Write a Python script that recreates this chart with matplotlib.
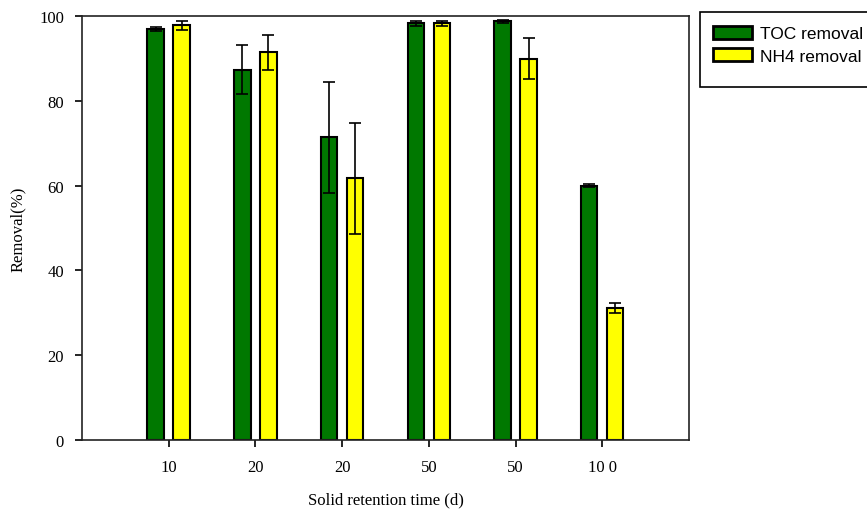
import numpy as np
import matplotlib
matplotlib.use('Agg')
import matplotlib.pyplot as plt
from matplotlib.patches import Rectangle

# data
srt_labels = ['10', '20', '20', '50', '50', '10 0']
toc_removal = [96.9, 87.3, 71.4, 98.3, 98.7, 60.0]
toc_err = [0.4, 5.8, 13.1, 0.6, 0.4, 0.3]
nh4_removal = [97.8, 91.4, 61.7, 98.3, 89.9, 31.1]
nh4_err = [1.0, 4.1, 13.1, 0.6, 4.8, 1.1]

fig = plt.figure(figsize=(8.67, 5.10), dpi=100)
ax = fig.add_axes([0.0946, 0.1353, 0.700, 0.8314])

x = np.arange(len(srt_labels))
w = 0.19
off = 0.15
err_kw = dict(ecolor='black', elinewidth=1.2, capsize=4.5, capthick=1.2)
b1 = ax.bar(x - off, toc_removal, w, yerr=toc_err, color='#007800', edgecolor='black',
            linewidth=1.5, error_kw=err_kw, label='TOC removal')
b2 = ax.bar(x + off, nh4_removal, w, yerr=nh4_err, color='#ffff00', edgecolor='black',
            linewidth=1.5, error_kw=err_kw, label='NH4 removal')

ax.set_xlim(-1, 6)
ax.set_ylim(0, 100)
ax.set_xticks(x)
ax.set_xticklabels(srt_labels)
ax.set_yticks(range(0, 101, 20))
serif = {'family': 'Liberation Serif', 'size': 12}
for lab in ax.get_xticklabels() + ax.get_yticklabels():
    lab.set_fontfamily('Liberation Serif')
    lab.set_fontsize(12)
ax.tick_params(axis='both', direction='out', length=5, width=1.2, colors='black')
ax.tick_params(axis='x', pad=9)
ax.tick_params(axis='y', pad=8)
for s in ax.spines.values():
    s.set_linewidth(1.2)
    s.set_color('#222222')

ax.set_xlabel('Solid retention time (d)', fontdict=serif)
ax.set_ylabel('Removal(%)', fontdict=serif)
ax.xaxis.set_label_coords(0.5, -0.14)
ax.yaxis.set_label_coords(-0.105, 0.5)
ax.xaxis.label.set_va('center')
ax.yaxis.label.set_va('center')

# legend box drawn by hand: it has extra room under the entries
W, H = 867.0, 510.0
fig.patches.append(Rectangle((700 / W, 1 - 88 / H), 175 / W, 75 / H, transform=fig.transFigure,
                             facecolor='white', edgecolor='black', linewidth=1.2))
leg = fig.legend(handles=[b1, b2], labels=['TOC removal', 'NH4 removal'],
                 loc='upper left', bbox_to_anchor=(713 / W, 1 - 27 / H),
                 prop={'family': 'Liberation Sans', 'size': 12.5},
                 frameon=False, handlelength=2.25, handleheight=0.75,
                 borderpad=0, labelspacing=0.4, handletextpad=0.45, borderaxespad=0)
for h in leg.legend_handles:
    h.set_linewidth(2)

fig.savefig('out.png', dpi=100)
